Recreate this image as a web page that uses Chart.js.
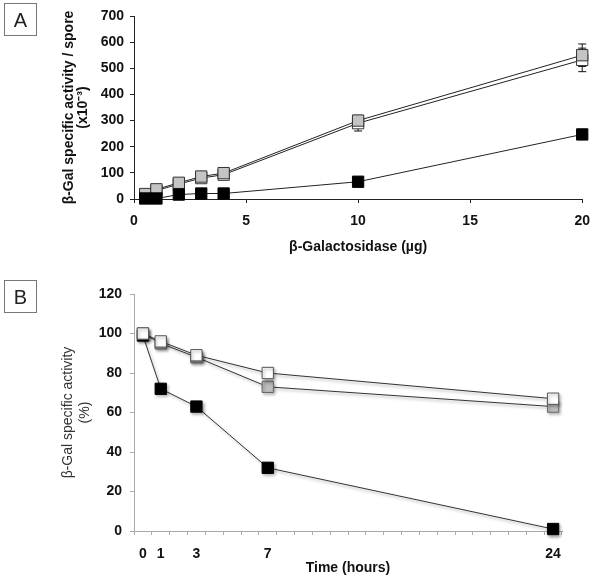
<!DOCTYPE html>
<html>
<head>
<meta charset="utf-8">
<script src="https://cdn.jsdelivr.net/npm/chart.js@4.4.1/dist/chart.umd.min.js"></script>
<style>
  body { margin: 0; background: #fff; }
  #wrap { position: relative; width: 600px; height: 582px; }
  .panel { position: absolute; left: 0; }
  .tag {
    position: absolute; left: 4px; width: 33px; height: 33px;
    border: 1px solid #777; box-sizing: border-box;
    font: 20px "Liberation Sans", Arial, sans-serif; color: #222;
    text-align: center; line-height: 32px;
  }
</style>
</head>
<body>
<div id="wrap">
  <canvas id="chartA" class="panel" style="top:0" width="600" height="265"></canvas>
  <canvas id="chartB" class="panel" style="top:270px" width="600" height="312"></canvas>
  <div class="tag" style="top:3px">A</div>
  <div class="tag" style="top:280px">B</div>
</div>
<script>
// panel A: activity vs amount of enzyme
const aDose = [0.5, 1, 2, 3, 4, 10, 20];
const aWhite = [15, 32, 57, 80, 93, 290, 532];
const aGray = [19, 37, 62, 86, 99, 300, 550];
const aBlack = [2, 2, 17, 21, 21, 66, 247];
const aWhiteErr = [0, 0, 0, 0, 0, 30, 45];
const aGrayErr = [0, 0, 0, 0, 0, 8, 43];

// panel B: activity over time
const bTickLabels = ['0', '1', '', '3', '', '', '', '7', '', '', '', '', '', '', '', '', '', '', '', '', '', '', '', '24'];
const bHours = ['0', '1', '3', '7', '24'];
const bWhite = [100, 96, 89, 80, 67];
const bGray = [100, 95, 88, 73, 63];
const bBlack = [99, 72, 63, 32, 1];

Chart.defaults.font.family = '"Liberation Sans", Arial, sans-serif';
Chart.defaults.color = '#111';
Chart.defaults.animation = false;

function pts(xs, ys) {
    return xs.map((x, i) => ({x: x, y: ys[i]}));
}

// vertical error bars with caps, drawn under the markers
const errorBars = {
    id: 'errorBars',
    beforeDatasetsDraw(chart) {
        const ctx = chart.ctx;
        const xs = chart.scales.x, ys = chart.scales.y;
        ctx.save();
        ctx.strokeStyle = '#111';
        ctx.lineWidth = 1;
        chart.data.datasets.forEach(ds => {
            if (!ds.errors) return;
            ds.data.forEach((p, i) => {
                const e = ds.errors[i];
                if (!e) return;
                const px = xs.getPixelForValue(p.x);
                const top = ys.getPixelForValue(p.y + e);
                const bot = ys.getPixelForValue(p.y - e);
                ctx.beginPath();
                ctx.moveTo(px, top); ctx.lineTo(px, bot);
                ctx.moveTo(px - 4, top); ctx.lineTo(px + 4, top);
                ctx.moveTo(px - 4, bot); ctx.lineTo(px + 4, bot);
                ctx.stroke();
            });
        });
        ctx.restore();
    }
};

// soft drop shadow like the spreadsheet style in panel B
const shadow = {
    id: 'shadow',
    beforeDatasetsDraw(chart) {
        const ctx = chart.ctx;
        ctx.save();
        ctx.shadowColor = 'rgba(0,0,0,0.35)';
        ctx.shadowBlur = 3;
        ctx.shadowOffsetX = 1.5;
        ctx.shadowOffsetY = 2;
    },
    afterDatasetsDraw(chart) {
        chart.ctx.restore();
    }
};

const lineBase = {
    borderWidth: 1,
    pointStyle: 'rect',
    pointRadius: 8,
    pointBorderWidth: 1,
    clip: false,
    tension: 0
};

const chartA = new Chart(document.getElementById('chartA'), {
    type: 'line',
    data: {
        datasets: [
            Object.assign({}, lineBase, {
                label: 'black', data: pts(aDose, aBlack),
                borderColor: '#222', backgroundColor: '#000', pointBorderColor: '#000'
            }),
            Object.assign({}, lineBase, {
                label: 'gray', data: pts(aDose, aGray), errors: aGrayErr,
                borderColor: '#222', backgroundColor: '#c4c4c4', pointBorderColor: '#333'
            }),
            Object.assign({}, lineBase, {
                label: 'white', data: pts(aDose, aWhite), errors: aWhiteErr,
                borderColor: '#222', backgroundColor: '#fff', pointBorderColor: '#333'
            })
        ]
    },
    options: {
        responsive: false,
        layout: { padding: { left: 0, right: 12, top: 16, bottom: 0 } },
        plugins: { legend: { display: false }, tooltip: { enabled: false } },
        scales: {
            x: {
                type: 'linear', min: 0, max: 20,
                afterFit: s => { s.height = 66; },
                ticks: { stepSize: 5, padding: 10, font: { size: 14, weight: 'bold' }, color: '#111' },
                grid: { drawOnChartArea: false, tickLength: 4, color: '#222' },
                border: { color: '#222' },
                title: {
                    display: true, text: 'β-Galactosidase (µg)', color: '#111',
                    font: { size: 14, weight: 'bold', lineHeight: 1.2 }, padding: { top: 0, bottom: 9 }
                }
            },
            y: {
                min: 0, max: 700,
                afterFit: s => { s.width = 134; },
                ticks: { stepSize: 100, padding: 6, font: { size: 14, weight: 'bold' }, color: '#111' },
                grid: { drawOnChartArea: false, tickLength: 4, color: '#222' },
                border: { color: '#222' },
                title: {
                    display: true, text: ['β-Gal specific activity / spore', '(x10⁻³)'], color: '#111',
                    font: { size: 14, weight: 'bold', lineHeight: 1.0 }, padding: { top: 62, bottom: 0 }
                }
            }
        }
    },
    plugins: [errorBars]
});

const chartB = new Chart(document.getElementById('chartB'), {
    type: 'line',
    data: {
        labels: bTickLabels,
        datasets: [
            Object.assign({}, lineBase, {
                label: 'white', data: pts(bHours, bWhite),
                borderColor: '#333', backgroundColor: '#fff', pointBorderColor: '#555'
            }),
            Object.assign({}, lineBase, {
                label: 'gray', data: pts(bHours, bGray),
                borderColor: '#333', backgroundColor: '#bdbdbd', pointBorderColor: '#666'
            }),
            Object.assign({}, lineBase, {
                label: 'black', data: pts(bHours, bBlack),
                borderColor: '#333', backgroundColor: '#000', pointBorderColor: '#000'
            })
        ]
    },
    options: {
        responsive: false,
        layout: { padding: { left: 0, right: 38, top: 24, bottom: 0 } },
        plugins: { legend: { display: false }, tooltip: { enabled: false } },
        scales: {
            x: {
                type: 'category', offset: true,
                afterFit: s => { s.height = 51; },
                ticks: { autoSkip: false, maxRotation: 0, padding: 11, font: { size: 14, weight: 'bold' }, color: '#111' },
                grid: { offset: true, drawOnChartArea: false, tickLength: 4, color: '#aaa' },
                border: { color: '#aaa' },
                title: {
                    display: true, text: 'Time (hours)', color: '#111',
                    font: { size: 14, weight: 'bold', lineHeight: 1.2 }, padding: { top: 0, bottom: 5 }
                }
            },
            y: {
                min: 0, max: 120,
                afterFit: s => { s.width = 134; },
                ticks: { stepSize: 20, padding: 8, font: { size: 14, weight: 'bold' }, color: '#111' },
                grid: { drawOnChartArea: false, tickLength: 4, color: '#aaa' },
                border: { color: '#aaa' },
                title: {
                    display: true, text: ['β-Gal specific activity', '(%)'], color: '#333',
                    font: { size: 14, lineHeight: 1.2 }, padding: { top: 60, bottom: 0 }
                }
            }
        }
    },
    plugins: [shadow]
});
</script>
</body>
</html>
